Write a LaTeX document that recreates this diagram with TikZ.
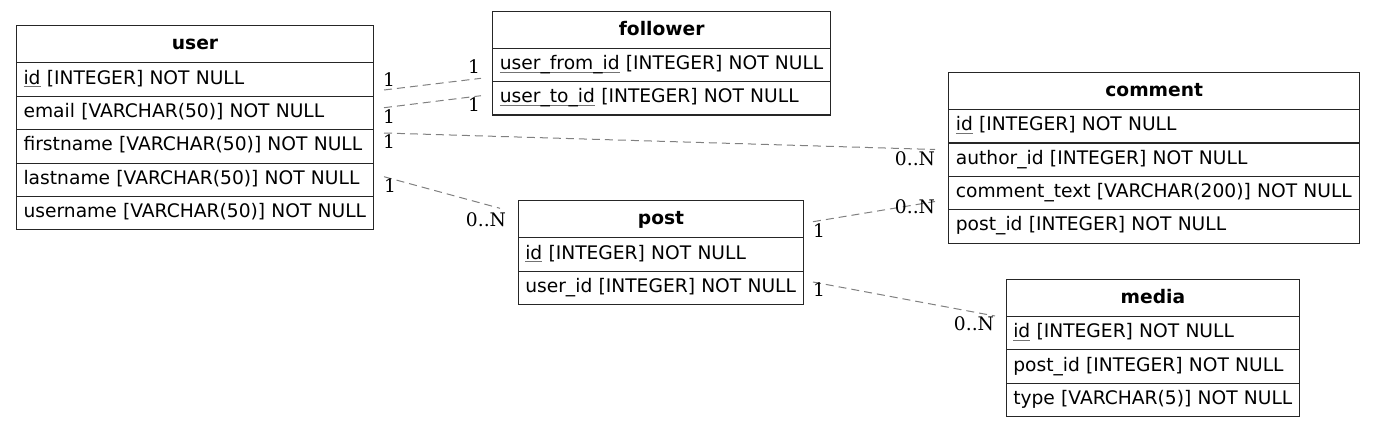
\documentclass[tikz,border=0pt]{standalone}
\usepackage{fontspec}
\setmainfont{DejaVu Sans}
\newfontfamily\lblfont{DejaVu Serif}
\newcommand\pkey[1]{\setbox0\hbox{#1}\rlap{\textcolor{black!55}{\rule[-3.4pt]{\wd0}{1pt}}}\box0\relax}
\tikzset{
 tbl/.style={draw=black!85, line width=1.1pt, rectangle, inner xsep=7pt, inner ysep=0pt, anchor=north west},
 hdr/.style={tbl, font=\fontsize{18.67}{22}\selectfont\bfseries, text height=14pt, text depth=3pt, align=center, minimum height=37.2pt},
 fld/.style={tbl, font=\fontsize{18.67}{22}\selectfont, text height=14pt, text depth=5pt, align=left, minimum height=33.4pt},
 rel/.style={draw=black!50, line width=1pt, dash pattern=on 8pt off 5pt},
 card/.style={font=\lblfont\fontsize{18.67}{22}\selectfont, inner sep=0pt, anchor=center}
}
\begin{document}
\begin{tikzpicture}[x=1pt,y=-1pt]
\useasboundingbox (0,0) rectangle (1373,426);
% user
\node[hdr, text width=343pt] (user) at (16,25) {user};
\node[fld, text width=343pt] (user-id) at (16,62.3) {\mbox{\pkey{id} [INTEGER] NOT NULL}};
\node[fld, text width=343pt] (user-email) at (16,95.7) {\mbox{email [VARCHAR(50)] NOT NULL}};
\node[fld, text width=343pt] (user-first) at (16,129.1) {\mbox{firstname [VARCHAR(50)] NOT NULL}};
\node[fld, text width=343pt] (user-last) at (16,162.5) {\mbox{lastname [VARCHAR(50)] NOT NULL}};
\node[fld, text width=343pt] (user-name) at (16,195.9) {\mbox{username [VARCHAR(50)] NOT NULL}};
% follower
\node[hdr, text width=323.7pt] (follower) at (492.3,10.7) {follower};
\node[fld, text width=323.7pt] (fol-from) at (492.3,47.7) {\mbox{\pkey{user\_from\_id} [INTEGER] NOT NULL}};
\node[fld, text width=323.7pt] (fol-to) at (492.3,81) {\mbox{\pkey{user\_to\_id} [INTEGER] NOT NULL}};
% post
\node[hdr, text width=271.6pt] (post) at (517.7,200) {post};
\node[fld, text width=271.6pt] (post-id) at (517.7,237.3) {\mbox{\pkey{id} [INTEGER] NOT NULL}};
\node[fld, text width=271.6pt] (post-user) at (517.7,270.7) {\mbox{user\_id [INTEGER] NOT NULL}};
% comment
\node[hdr, text width=396.7pt] (comment) at (948.3,72) {comment};
\node[fld, text width=396.7pt] (com-id) at (948.3,109) {\mbox{\pkey{id} [INTEGER] NOT NULL}};
\node[fld, text width=396.7pt] (com-author) at (948.3,142.4) {\mbox{author\_id [INTEGER] NOT NULL}};
\node[fld, text width=396.7pt] (com-text) at (948.3,175.8) {\mbox{comment\_text [VARCHAR(200)] NOT NULL}};
\node[fld, text width=396.7pt] (com-post) at (948.3,209.2) {\mbox{post\_id [INTEGER] NOT NULL}};
% media
\node[hdr, text width=279.3pt] (media) at (1005.7,278.7) {media};
\node[fld, text width=279.3pt] (med-id) at (1005.7,315.9) {\mbox{\pkey{id} [INTEGER] NOT NULL}};
\node[fld, text width=279.3pt] (med-post) at (1005.7,349.3) {\mbox{post\_id [INTEGER] NOT NULL}};
\node[fld, text width=279.3pt] (med-type) at (1005.7,382.7) {\mbox{type [VARCHAR(5)] NOT NULL}};
% connector end points
\coordinate (c1a) at (384,90);    \coordinate (c1b) at (481,78.3);
\coordinate (c2a) at (384,107.7); \coordinate (c2b) at (481,95.7);
\coordinate (c3a) at (384,133);   \coordinate (c3b) at (935,149.5);
\coordinate (c4a) at (384,176.7); \coordinate (c4b) at (500,208.3);
\coordinate (c5a) at (813,221.7); \coordinate (c5b) at (935,201.5);
\coordinate (c6a) at (813,282);   \coordinate (c6b) at (995,316);
\draw[rel] (c1a) -- (c1b);
\draw[rel] (c2a) -- (c2b);
\draw[rel] (c3a) -- (c3b);
\draw[rel] (c4a) -- (c4b);
\draw[rel] (c5a) -- (c5b);
\draw[rel] (c6a) -- (c6b);
% cardinalities
\node[card] (k1a) at (389,80) {1};
\node[card] (k1b) at (474,66.7) {1};
\node[card] (k2a) at (389,116.7) {1};
\node[card] (k2b) at (474,104.3) {1};
\node[card] (k3a) at (389,142) {1};
\node[card] (k3b) at (915,159) {0..N};
\node[card] (k4a) at (390,186) {1};
\node[card] (k4b) at (486,220) {0..N};
\node[card] (k5a) at (819,231) {1};
\node[card] (k5b) at (915,207) {0..N};
\node[card] (k6a) at (819,290) {1};
\node[card] (k6b) at (974,323.3) {0..N};
\end{tikzpicture}
\end{document}
